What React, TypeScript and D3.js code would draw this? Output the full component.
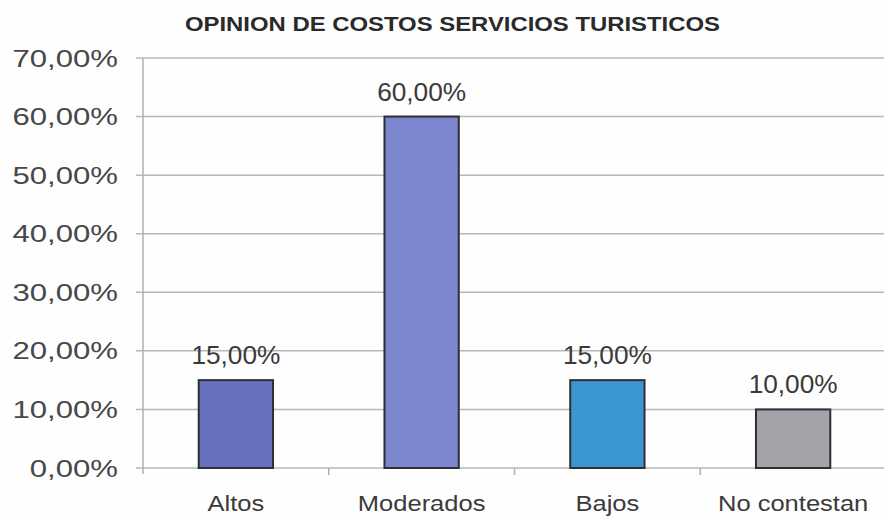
import React from "react";
import * as d3 from "d3";

const categories = ["Altos", "Moderados", "Bajos", "No contestan"];
const values = [0.15, 0.6, 0.15, 0.1];
const barColors = ["#6770be", "#7d87d0", "#3b96cf", "#a3a3aa"];
const yTicks = [0, 0.1, 0.2, 0.3, 0.4, 0.5, 0.6, 0.7];
const title = "OPINION DE COSTOS SERVICIOS TURISTICOS";

const W = 884;
const H = 519;
const left = 143;
const right = 886;
const top = 58;
const bottom = 468;

const fmt = (v: number) => (v * 100).toFixed(2).replace(".", ",") + "%";

export default function App() {
  const x = d3.scaleBand<string>().domain(categories).range([left, right]).paddingInner(0.6).paddingOuter(0.3);
  const y = d3.scaleLinear().domain([0, 0.7]).range([bottom, top]);
  const band = d3.scaleBand<string>().domain(categories).range([left, right]);
  const font = "Arial, 'Liberation Sans', sans-serif";
  return (
    <svg width={W} height={H} style={{ position: "absolute", left: 0, top: 0, background: "#fefefe" }}>
      <text
        x={185}
        y={31}
        textLength={535}
        lengthAdjust="spacingAndGlyphs"
        fontFamily={font}
        fontWeight="bold"
        fontSize={19.5}
        fill="#2a2a2a"
      >
        {title}
      </text>
      {yTicks.map((t) => (
        <g key={t}>
          <line x1={136} x2={W} y1={y(t)} y2={y(t)} stroke="#b8b8b8" strokeWidth={1.5} />
          <text
            transform={`translate(118,${y(t) + 8.5}) scale(1.27,1)`}
            textAnchor="end"
            fontFamily={font}
            fontSize={24.5}
            fill="#484848"
          >
            {fmt(t)}
          </text>
        </g>
      ))}
      <line x1={left} x2={left} y1={top} y2={bottom + 6} stroke="#b0b0b0" strokeWidth={1.5} />
      {categories.slice(1).map((c) => (
        <line key={c} x1={band(c)!} x2={band(c)!} y1={bottom} y2={bottom + 7} stroke="#b0b0b0" strokeWidth={1.5} />
      ))}
      {categories.map((c, i) => {
        const cx = x(c)! + x.bandwidth() / 2;
        return (
          <g key={c}>
            <rect
              x={x(c)!}
              y={y(values[i])}
              width={x.bandwidth()}
              height={bottom - y(values[i])}
              fill={barColors[i]}
              stroke="#2e2e35"
              strokeWidth={2}
            />
            <text
              transform={`translate(${cx},${y(values[i]) - 16}) scale(1.05,1)`}
              textAnchor="middle"
              fontFamily={font}
              fontSize={25}
              fill="#3a3a3a"
            >
              {fmt(values[i])}
            </text>
            <text
              transform={`translate(${cx},511) scale(1.16,1)`}
              textAnchor="middle"
              fontFamily={font}
              fontSize={22}
              fill="#3a3a3a"
            >
              {c}
            </text>
          </g>
        );
      })}
    </svg>
  );
}
